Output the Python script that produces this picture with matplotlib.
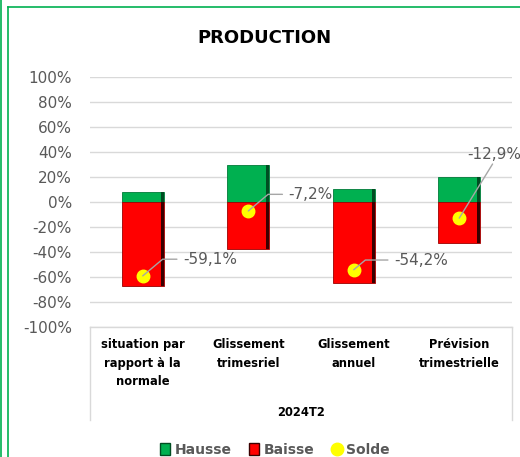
import numpy as np
import matplotlib
matplotlib.use("Agg")
import matplotlib.pyplot as plt
from matplotlib.lines import Line2D
from matplotlib.patches import Rectangle
from matplotlib.ticker import FuncFormatter

categories = ["situation par\nrapport à la\nnormale", "Glissement\ntrimesriel",
              "Glissement\nannuel", "Prévision\ntrimestrielle"]
group_label = "2024T2"
hausse = [8.0, 30.0, 10.4, 19.8]
baisse = [-67.1, -37.2, -64.6, -32.7]
solde = [-59.1, -7.2, -54.2, -12.9]

green, red, yellow = "#00B050", "#FF0000", "#FFFF00"
grey = "#595959"

fig = plt.figure(figsize=(5.2, 4.57), dpi=100)
ax = fig.add_axes([90 / 520, 1 - 327 / 457, 422 / 520, 250 / 457])

x = np.arange(len(categories)) + 0.5
w = 0.4
d = 0.03
ax.bar(x, hausse, width=w, color=green, edgecolor="#007a38", linewidth=0.6, zorder=2)
ax.bar(x, baisse, width=w, color=red, edgecolor="#9c0000", linewidth=0.6, zorder=2)
# bevel shading on the right edge
ax.bar(x + w / 2 - d / 2, hausse, width=d, color="#004d22", linewidth=0, zorder=3)
ax.bar(x + w / 2 - d / 2, baisse, width=d, color="#3a0000", linewidth=0, zorder=3)
ax.plot(x, solde, "o", color=yellow, markersize=9, zorder=4)

# data labels for the balance
offsets = [(29, 12), (29, 12), (29, 7), (25, 46)]
for xi, s, off in zip(x, solde, offsets):
    lab = f"{s:.1f}%".replace(".", ",")
    if off[1] > 30:
        ax.annotate(lab, (xi, s), xytext=off, textcoords="offset points",
                    ha="center", va="center", fontsize=11, color=grey, zorder=5,
                    bbox=dict(boxstyle="square,pad=0.15", fc="none", ec="none"),
                    arrowprops=dict(arrowstyle="-", color="#a6a6a6", lw=1,
                                    shrinkA=0, shrinkB=0, relpos=(0.5, 0)))
    else:
        ax.annotate(lab, (xi, s), xytext=off, textcoords="offset points",
                    ha="left", va="center", fontsize=11, color=grey, zorder=5,
                    bbox=dict(boxstyle="square,pad=0.4", fc="none", ec="none"),
                    arrowprops=dict(arrowstyle="-", color="#a6a6a6", lw=1,
                                    shrinkA=0, shrinkB=0, relpos=(0, 0.5),
                                    connectionstyle="angle,angleA=0,angleB=40,rad=0"))

ax.set_xlim(0, 4)
ax.set_ylim(-100, 100)
ax.set_yticks(np.arange(-100, 101, 20))
ax.yaxis.set_major_formatter(FuncFormatter(lambda v, p: f"{v:.0f}%"))
ax.tick_params(axis="y", length=0, pad=13, labelsize=11, labelcolor=grey)
ax.set_xticks([])
ax.grid(axis="y", color="#d9d9d9", lw=1, zorder=0)
for sp in ax.spines.values():
    sp.set_visible(False)

# multi-level category box
box_bottom = -93 / 250
for xx in (0, 1):
    ax.add_line(Line2D([xx, xx], [0, box_bottom], transform=ax.transAxes,
                       color="#d9d9d9", lw=1, clip_on=False))
ax.add_line(Line2D([0, 1], [0, 0], transform=ax.transAxes, color="#d9d9d9", lw=1, clip_on=False))
for xi, c in zip(x, categories):
    ax.text(xi, -109, c, ha="center", va="top", fontsize=8.3, fontweight="heavy",
            family="DejaVu Sans", color="black", linespacing=1.55)
ax.text(0.5, -85 / 250, group_label, transform=ax.transAxes, ha="center", va="center",
        fontsize=8.3, fontweight="heavy", color="black")

fig.text(264 / 520, 1 - 38 / 457, "PRODUCTION", ha="center", va="center",
         fontsize=13, fontweight="bold", family="DejaVu Sans")

handles = [
    Rectangle((0, 0), 1, 1, fc=green, ec="#004d22"),
    Rectangle((0, 0), 1, 1, fc=red, ec="#3a0000"),
    Line2D([], [], marker="o", ls="", color=yellow, markersize=9),
]
leg = fig.legend(handles, ["Hausse", "Baisse", "Solde"], loc="center",
                 bbox_to_anchor=(275 / 520, 1 - 450 / 457), ncol=3, frameon=False,
                 handlelength=0.7, handleheight=0.9, handletextpad=0.3, columnspacing=1.3,
                 prop=dict(size=10, weight="bold"))
for t in leg.get_texts():
    t.set_color(grey)

# green outer border
fig.add_artist(Line2D([8 / 520, 8 / 520], [0, 1 - 7 / 457], transform=fig.transFigure, color=green, lw=1.2))
fig.add_artist(Line2D([8 / 520, 1], [1 - 7 / 457, 1 - 7 / 457], transform=fig.transFigure, color=green, lw=1.2))
fig.add_artist(Line2D([1 / 520, 1 / 520], [0, 1], transform=fig.transFigure, color=green, lw=1.2))

fig.savefig("out.png", dpi=100)
